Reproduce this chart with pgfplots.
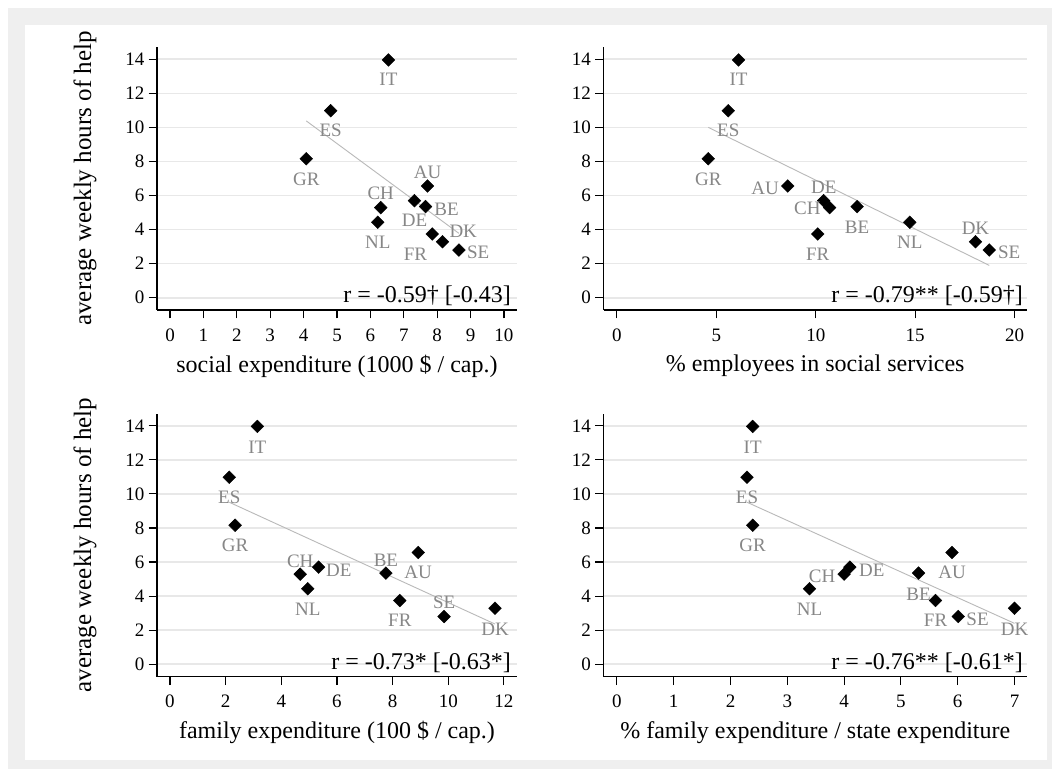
\documentclass[border=0pt]{standalone}
\usepackage{fontspec}
\setmainfont{Liberation Serif}
\usepackage{pgfplots}
\pgfplotsset{compat=1.18}
\usepackage{pgfplotstable}

\definecolor{outergray}{RGB}{239,239,239}
\definecolor{gridgray}{RGB}{232,232,232}
\definecolor{labgray}{RGB}{135,135,135}
\definecolor{fitgray}{RGB}{185,185,185}

\newcommand{\ticksz}{\fontsize{19}{19}\selectfont}

\pgfplotstableread{
lab x y dx dy
IT 6.54 13.96 0 -19.5
ES 4.81 10.98 0 -20
GR 4.08 8.16 0 -20.5
AU 7.71 6.56 0 14
CH 6.31 5.29 0 14
NL 6.22 4.43 0 -20
DE 7.32 5.70 0 -20
BE 7.65 5.35 21 -2.5
FR 7.85 3.74 -16.7 -20
DK 8.16 3.29 20.7 10
SE 8.65 2.80 19.3 -2.3
}\tA
\pgfplotstableread{
lab x y dx dy
IT 6.12 13.96 0 -19.5
ES 5.60 10.98 0 -20
GR 4.60 8.16 0 -20.5
AU 8.59 6.56 -22.7 -2.3
DE 10.40 5.70 0 13.5
CH 10.70 5.29 -22.3 -1
BE 12.08 5.35 0 -20.5
FR 10.10 3.74 0 -20.5
NL 14.73 4.43 0 -20.5
DK 18.03 3.29 0 13
SE 18.72 2.80 20 -2.3
}\tB
\pgfplotstableread{
lab x y dx dy
IT 3.14 13.96 0 -20.5
ES 2.13 10.98 0 -20.3
GR 2.34 8.16 0 -20.3
CH 4.68 5.29 0 13.3
NL 4.95 4.43 0 -20
DE 5.34 5.70 20.3 -2.7
BE 7.76 5.35 0 12.7
AU 8.92 6.56 0 -20
FR 8.26 3.74 0 -20
SE 9.85 2.80 0 14.7
DK 11.68 3.29 0 -20.7
}\tC
\pgfplotstableread{
lab x y dx dy
IT 2.39 13.96 0 -20.5
ES 2.29 10.98 0 -20.3
GR 2.39 8.16 0 -20.3
NL 3.39 4.43 0 -21
CH 4.00 5.29 -22 -1.7
DE 4.10 5.70 22 -2.7
BE 5.31 5.35 0 -20.7
AU 5.90 6.56 0 -20
FR 5.61 3.74 0 -20
SE 6.01 2.80 19.3 -2.3
DK 7.00 3.29 0 -20.7
}\tD

\tikzset{rtext/.style={anchor=base east, inner sep=0pt, font=\fontsize{24}{24}\selectfont}}

\pgfplotsset{
  panel/.style={
    scale only axis, clip=false,
    axis x line*=bottom, axis y line*=left,
    axis line style={black, line width=1.1pt, -},
    ymin=-0.72, ymax=14.72, ytick={0,2,...,14},
    ymajorgrids, grid style={gridgray, line width=1.6pt},
    tick align=outside, major tick length=8.5pt,
    every tick/.style={black, line width=1.1pt},
    /pgf/number format/assume math mode=true,
    tick label style={font=\ticksz, inner sep=0pt},
    xticklabel style={anchor=north, font=\ticksz, yshift=-10pt},
    yticklabel style={anchor=east, font=\ticksz, xshift=-4pt},
    xlabel style={font=\fontsize{24}{24}\selectfont, at={(axis description cs:0.5,-0.213)}, anchor=center},
    ylabel style={font=\fontsize{25}{25}\selectfont, at={(axis description cs:-0.2,0.5)}, anchor=center},
  },
  pts/.style={
    only marks, mark=square*, mark size=4.5pt,
    mark options={rotate=45, fill=black, draw=none},
    point meta=explicit symbolic,
    visualization depends on={\thisrow{dx} \as \ldx},
    visualization depends on={\thisrow{dy} \as \ldy},
    nodes near coords,
    every node near coord/.append style={anchor=center, inner sep=0pt, text=labgray,
      font=\ticksz, xshift=\ldx pt, yshift=\ldy pt},
  },
  fitl/.style={no marks, fitgray, line width=0.9pt},
}

\begin{document}
\begin{tikzpicture}
\fill[white] (0pt,0pt) rectangle (1052pt,769pt);
\fill[outergray] (8pt,0pt) rectangle (1052pt,761pt);
\fill[white] (25pt,9pt) rectangle (1047pt,744pt);

% panel 1
\begin{axis}[panel, at={(157pt,459pt)}, anchor=south west,
  width=360pt, height=263pt,
  xmin=-0.39, xmax=10.39, xtick={0,1,...,10},
  xlabel={social expenditure (1000 \$ / cap.)},
  ylabel={average weekly hours of help}]
\addplot[fitl] coordinates {(4.08,10.38) (8.65,3.78)};
\addplot[pts] table[x=x, y=y, meta=lab] {\tA};
\node[rtext, xshift=-6pt, yshift=7pt] at (rel axis cs:1,0) {r = -0.59† [-0.43]};
\end{axis}

% panel 2
\begin{axis}[panel, at={(603.5pt,459pt)}, anchor=south west,
  width=423.5pt, height=263pt,
  xmin=-0.67, xmax=20.62, xtick={0,5,...,20},
  xlabel={\% employees in social services}]
\addplot[fitl] coordinates {(4.60,10.0) (18.72,1.90)};
\addplot[pts] table[x=x, y=y, meta=lab] {\tB};
\node[rtext, xshift=-4pt, yshift=7pt] at (rel axis cs:1,0) {r = -0.79** [-0.59†]};
\end{axis}

% panel 3
\begin{axis}[panel, at={(157pt,92.5pt)}, anchor=south west,
  width=360pt, height=263pt,
  xmin=-0.467, xmax=12.47, xtick={0,2,...,12},
  xlabel={family expenditure (100 \$ / cap.)},
  ylabel={average weekly hours of help}]
\addplot[fitl] coordinates {(2.13,9.51) (11.68,2.36)};
\addplot[pts] table[x=x, y=y, meta=lab] {\tC};
\node[rtext, xshift=-6pt, yshift=7.5pt] at (rel axis cs:1,0) {r = -0.73* [-0.63*]};
\end{axis}

% panel 4
\begin{axis}[panel, at={(603.5pt,92.5pt)}, anchor=south west,
  width=423.5pt, height=263pt,
  xmin=-0.236, xmax=7.22, xtick={0,1,...,7},
  xlabel={\% family expenditure / state expenditure}]
\addplot[fitl] coordinates {(2.29,9.51) (7.00,2.40)};
\addplot[pts] table[x=x, y=y, meta=lab] {\tD};
\node[rtext, xshift=-4pt, yshift=7.5pt] at (rel axis cs:1,0) {r = -0.76** [-0.61*]};
\end{axis}
\end{tikzpicture}
\end{document}
